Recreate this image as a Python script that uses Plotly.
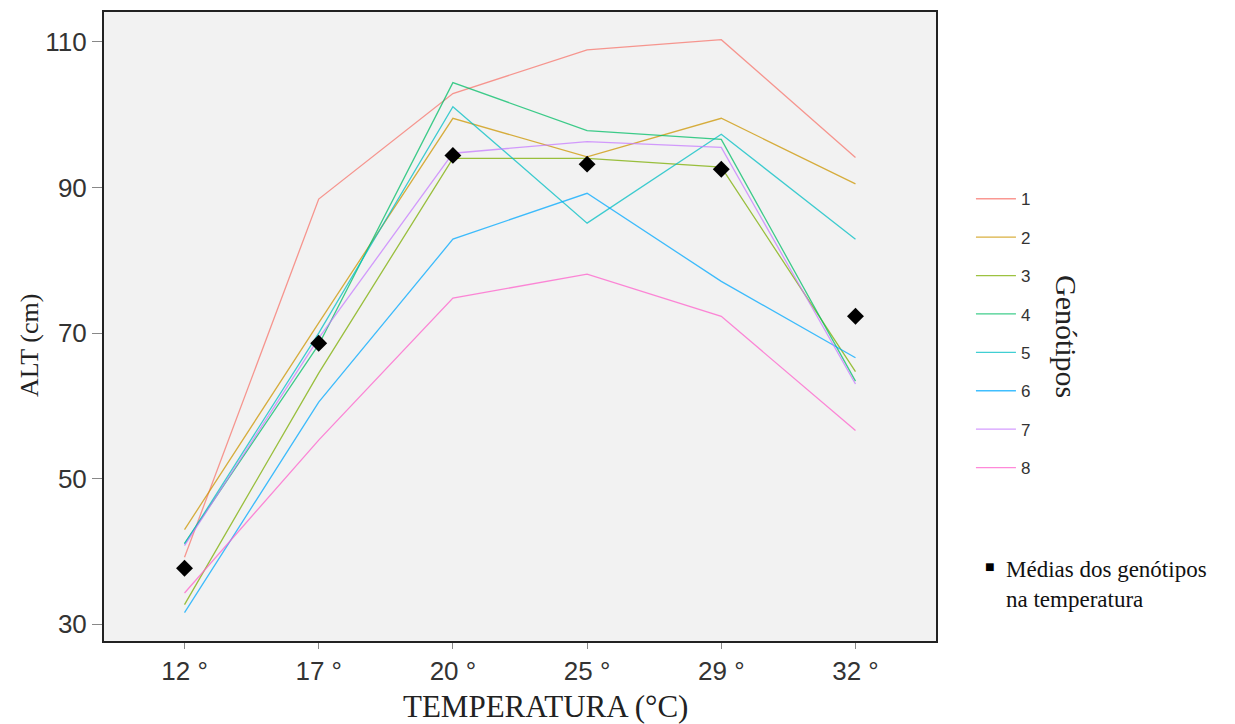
import plotly.graph_objects as go

temperaturas = ["12 °", "17 °", "20 °", "25 °", "29 °", "32 °"]
genotipos = ["1", "2", "3", "4", "5", "6", "7", "8"]
g1 = [39.2, 88.4, 102.9, 108.9, 110.3, 94.1]
g2 = [43.0, 71.4, 99.5, 94.2, 99.5, 90.5]
g3 = [32.7, 64.5, 94.0, 94.0, 92.8, 64.7]
g4 = [41.1, 68.4, 104.4, 97.8, 96.6, 63.4]
g5 = [41.0, 70.0, 101.1, 85.1, 97.3, 82.9]
g6 = [31.6, 60.5, 82.9, 89.2, 77.1, 66.6]
g7 = [40.8, 69.3, 94.7, 96.3, 95.5, 63.0]
g8 = [34.3, 55.3, 74.8, 78.1, 72.3, 56.6]
medias = [37.7, 68.6, 94.4, 93.2, 92.5, 72.3]

series = [g1, g2, g3, g4, g5, g6, g7, g8]
cores = ["#F8766D", "#CD9600", "#7CAE00", "#00BE67", "#00BFC4", "#00A9FF", "#C77CFF", "#FF61CC"]

# plot area in screenshot pixels (page has an 8px body margin)
PL, PR, PT, PB = 104, 936, 10, 641
PW, PH = PR - PL, PB - PT


def px(x):
    return (x - PL) / PW


def py(y):
    return (PB - y) / PH


fig = go.Figure()
for nome, vals, cor in zip(genotipos, series, cores):
    fig.add_trace(go.Scatter(
        x=temperaturas, y=vals, mode="lines", name=nome,
        legendgroup=nome,
        line=dict(color=cor, width=1.3), opacity=0.75,
    ))

fig.add_trace(go.Scatter(
    x=temperaturas, y=medias, mode="markers", name="Médias",
    marker=dict(symbol="diamond", size=13, color="black"),
    showlegend=False,
))

serif = "Liberation Serif, Times New Roman, serif"
sans = "Liberation Sans, Arial, sans-serif"

fig.update_layout(
    width=1235, height=724,
    margin=dict(l=PL - 8, r=1235 - (PR - 8), t=PT - 8, b=724 - (PB - 8)),
    paper_bgcolor="white",
    plot_bgcolor="#f2f2f2",
    showlegend=True,
    legend=dict(
        x=1.042, y=0.731, xanchor="left", yanchor="top",
        font=dict(family=sans, size=17, color="#333333"),
        tracegroupgap=13.3, itemwidth=40,
        bgcolor="rgba(0,0,0,0)",
    ),
    annotations=[
        dict(text="Genótipos", x=px(1066), y=py(335), xref="paper", yref="paper",
             xanchor="center", yanchor="middle", showarrow=False, textangle=90,
             font=dict(family=serif, size=30, color="#222222")),
        dict(text="■", x=px(990), y=py(566), xref="paper", yref="paper",
             xanchor="center", yanchor="middle", showarrow=False,
             font=dict(family=sans, size=16, color="#000000")),
        dict(text="Médias dos genótipos<br>na temperatura", x=px(1004), y=py(584),
             xref="paper", yref="paper", xanchor="left", yanchor="middle", align="left",
             showarrow=False,
             font=dict(family=serif, size=23, color="#111111")),
        dict(text="TEMPERATURA (°C)", x=px(545), y=py(707), xref="paper", yref="paper",
             xanchor="center", yanchor="middle", showarrow=False,
             font=dict(family=serif, size=31, color="#222222")),
        dict(text="ALT (cm)", x=px(30), y=py(345), xref="paper", yref="paper",
             xanchor="center", yanchor="middle", showarrow=False, textangle=-90,
             font=dict(family=serif, size=26, color="#222222")),
    ],
)

fig.update_xaxes(
    type="category", range=[-0.6, 5.6],
    showline=True, linecolor="#222222", linewidth=2, mirror=True,
    showgrid=False, zeroline=False,
    ticks="outside", ticklen=6, tickcolor="#888888",
    tickfont=dict(family=sans, size=26, color="#333333"),
)
fig.update_yaxes(
    range=[27.7, 114.1], tickvals=[30, 50, 70, 90, 110],
    showline=True, linecolor="#222222", linewidth=2, mirror=True,
    showgrid=False, zeroline=False,
    ticks="outside", ticklen=10, tickcolor="#888888",
    tickfont=dict(family=sans, size=26, color="#333333"),
)

fig.write_html("out.html")
